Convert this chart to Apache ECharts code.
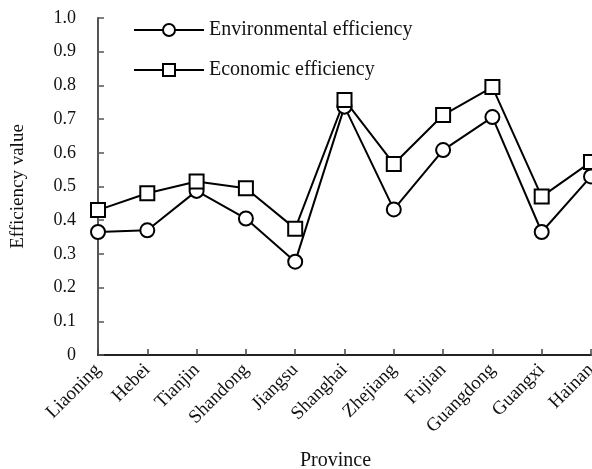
<!DOCTYPE html>
<html>
<head>
<meta charset="utf-8">
<script src="https://cdn.jsdelivr.net/npm/echarts@6/dist/echarts.min.js"></script>
<style>
  html, body { margin: 0; padding: 0; background: #fff; }
  #chart { width: 592px; height: 469px; }
</style>
</head>
<body>
<div id="chart"></div>
<script>
var provinces = ["Liaoning", "Hebei", "Tianjin", "Shandong", "Jiangsu", "Shanghai",
  "Zhejiang", "Fujian", "Guangdong", "Guangxi", "Hainan"];
var envEff = [0.365, 0.37, 0.487, 0.405, 0.277, 0.737, 0.432, 0.608, 0.706, 0.365, 0.53];
var ecoEff = [0.43, 0.48, 0.515, 0.495, 0.375, 0.757, 0.567, 0.712, 0.795, 0.47, 0.573];
var yTicks = ["0", "0.1", "0.2", "0.3", "0.4", "0.5", "0.6", "0.7", "0.8", "0.9", "1.0"];

var font = "Liberation Serif";
var chart = echarts.init(document.getElementById('chart'));

chart.setOption({
  animation: false,
  textStyle: { fontFamily: font },
  grid: { left: 98, right: 1, top: 18, bottom: 114, outerBoundsMode: 'none' },
  legend: {
    orient: 'vertical',
    left: 133,
    top: 20,
    padding: 0,
    itemWidth: 70,
    itemHeight: 15,
    itemGap: 20,
    textStyle: { fontFamily: font, fontSize: 20, color: '#111' },
    data: ['Environmental efficiency', 'Economic efficiency']
  },
  xAxis: {
    type: 'category',
    data: provinces,
    boundaryGap: false,
    name: 'Province',
    nameLocation: 'middle',
    nameGap: 96,
    nameTextStyle: { fontFamily: font, fontSize: 20, color: '#111', padding: [0, 18, 0, 0] },
    axisLine: { lineStyle: { color: '#222', width: 2 } },
    axisTick: { alignWithLabel: true, inside: true, length: 6, lineStyle: { color: '#444', width: 1.5 } },
    axisLabel: { rotate: 45, fontFamily: font, fontSize: 19, color: '#111', margin: 12 }
  },
  yAxis: {
    type: 'value',
    min: 0,
    max: 1,
    interval: 0.1,
    name: 'Efficiency value',
    nameLocation: 'middle',
    nameGap: 70,
    nameTextStyle: { fontFamily: font, fontSize: 19, color: '#111' },
    splitLine: { show: false },
    axisLine: { show: true, lineStyle: { color: '#555', width: 2 } },
    axisTick: { show: true, inside: true, length: 6, lineStyle: { color: '#555', width: 1.5 } },
    axisLabel: {
      fontFamily: font, fontSize: 18, color: '#111', margin: 22,
      formatter: function (v) { return yTicks[Math.round(v * 10)]; }
    }
  },
  series: [
    {
      name: 'Environmental efficiency',
      type: 'line',
      data: envEff,
      symbol: 'emptyCircle',
      symbolSize: 14,
      lineStyle: { color: '#000', width: 2 },
      itemStyle: { color: '#000', borderWidth: 1.5 }
    },
    {
      name: 'Economic efficiency',
      type: 'line',
      data: ecoEff,
      symbol: 'emptyRect',
      symbolSize: 14,
      lineStyle: { color: '#000', width: 2 },
      itemStyle: { color: '#000', borderWidth: 1.5 }
    }
  ]
});
</script>
</body>
</html>
